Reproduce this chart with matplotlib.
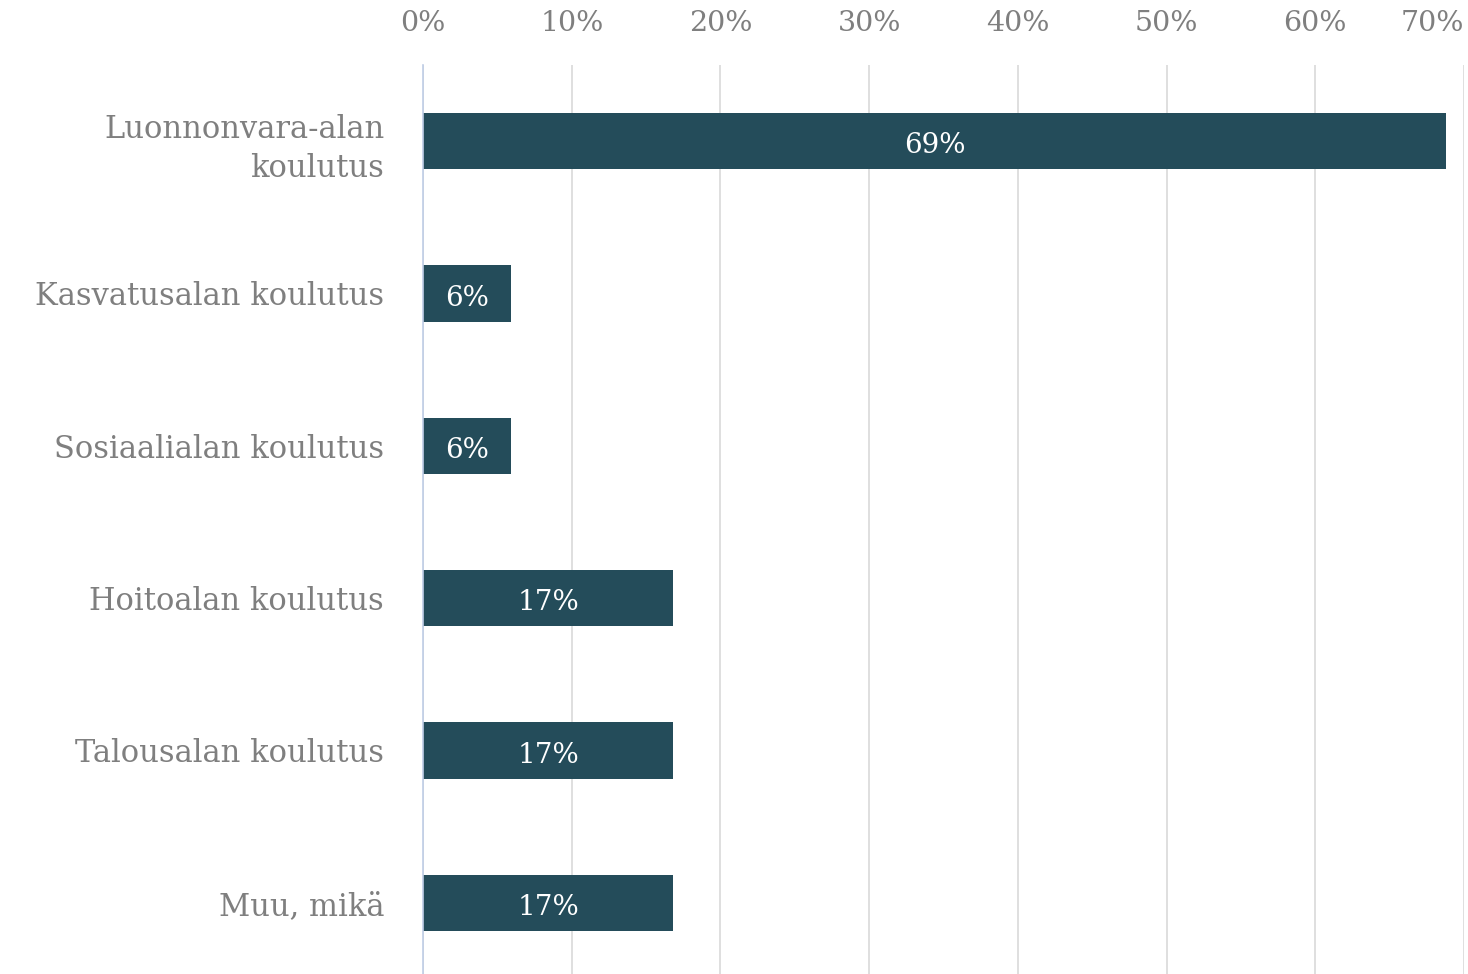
import matplotlib.pyplot as plt

plt.rcParams['font.family'] = ['DejaVu Serif']

# data
categories = ["Luonnonvara-alan\nkoulutus", "Kasvatusalan koulutus", "Sosiaalialan koulutus",
              "Hoitoalan koulutus", "Talousalan koulutus", "Muu, mikä"]
values = [68.8, 5.9, 5.9, 16.8, 16.8, 16.8]
value_labels = ["69%", "6%", "6%", "17%", "17%", "17%"]
ticks = [0, 10, 20, 30, 40, 50, 60, 70]

bar_color = "#244c5a"
gray = "#7f7f7f"

fig = plt.figure(figsize=(14.68, 9.74), dpi=100)
ax = fig.add_axes([0.2882, -0.0051, 0.7091, 0.9384])

ypos = list(range(len(categories)))
ax.barh(ypos, values, height=0.37, color=bar_color, zorder=3)

for y, v, lab in zip(ypos, values, value_labels):
    ax.text(v / 2, y + 0.03, lab, ha="center", va="center", color="white", fontsize=20, zorder=4)

ax.set_ylim(len(categories) - 0.5, -0.5)
ax.set_xlim(0, 70)
ax.set_yticks(ypos)
ax.set_yticklabels(categories, fontsize=22, color=gray, linespacing=1.35)
ax.set_xticks(ticks)
ax.set_xticklabels([f"{t}%" for t in ticks], fontsize=20.5, color=gray)

ax.xaxis.tick_top()
ax.tick_params(axis="x", length=0, pad=20)
ax.tick_params(axis="y", length=0, pad=28)
# last label kept inside the figure
ax.xaxis.get_major_ticks()[-1].label2.set_horizontalalignment("right")

ax.grid(axis="x", color="#d9d9d9", linewidth=1.2, zorder=0)
for s in ["top", "right", "bottom"]:
    ax.spines[s].set_visible(False)
ax.spines["left"].set_color("#bfcde6")
ax.spines["left"].set_linewidth(1.2)
ax.spines["left"].set_zorder(5)

fig.savefig("out.png", dpi=100)
